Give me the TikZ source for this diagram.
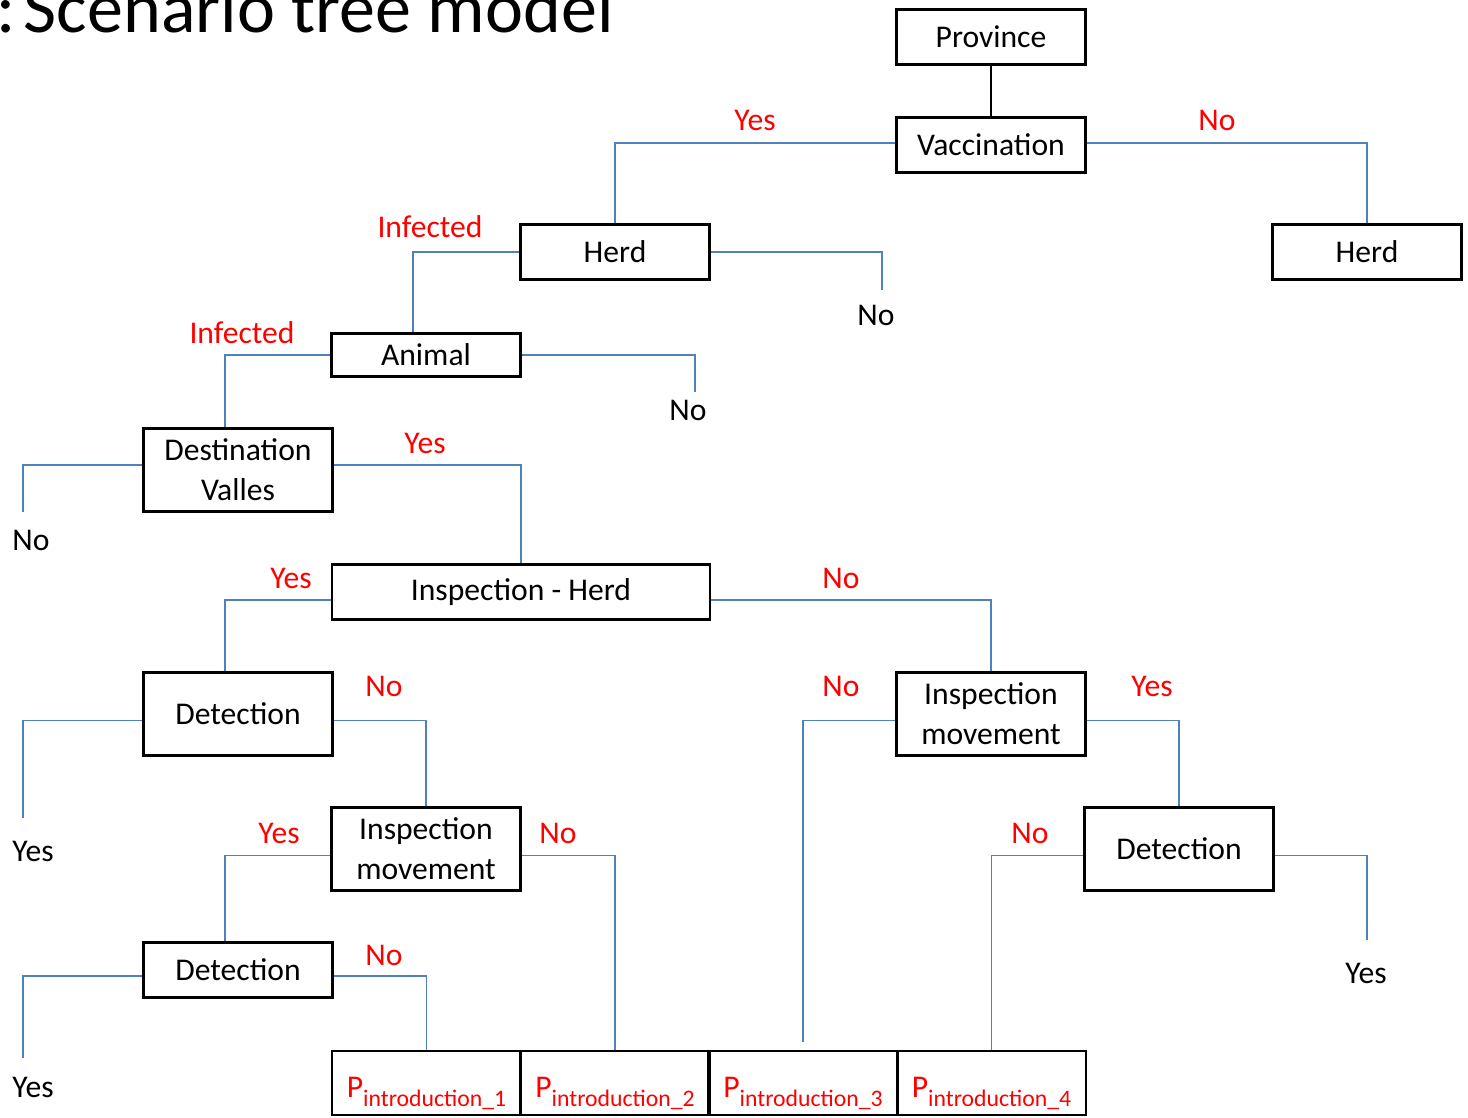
\documentclass[tikz,border=0pt]{standalone}
\usepackage{fontspec}
\setmainfont{Carlito}
\usetikzlibrary{positioning}
\definecolor{linkblue}{RGB}{79,129,189}
\definecolor{labelred}{RGB}{255,0,0}

\begin{document}
\begin{tikzpicture}[
  x=0.02cm,
  y=-0.02cm,
  state/.style={
    rectangle,
    draw,
    line width=1.6pt,
    align=center,
    inner sep=1pt,
    minimum width=3.78cm,
    minimum height=1.1cm,
    font=\fontsize{18}{22.7}\selectfont,
  },
  tall/.style={state, minimum height=1.66cm},
  prob/.style={state, minimum height=1.28cm, text height=17pt, text depth=1pt, text=labelred},
  branch/.style={draw=linkblue, line width=1.1pt},
  answer/.style={inner sep=0pt, text=labelred, font=\fontsize{18}{22}\selectfont},
  outcome/.style={inner sep=0pt, font=\fontsize{18}{22}\selectfont},
]
\useasboundingbox (0,0) rectangle (1468,1117);
\node[anchor=base east, inner sep=0pt, font=\fontsize{41}{48}\selectfont] (title) at (614,32) {:\hspace{0.12em}Scenario tree model};

% decision boxes
\node[state] (province) at (991,37) {Province};
\node[state] (vacc) at (991,145) {Vaccination};
\node[state] (herdL) at (615,252) {Herd};
\node[state] (herdR) at (1367,252) {Herd};
\node[state, minimum height=0.86cm] (animal) at (426,355) {Animal};
\node[tall] (dest) at (238,470) {Destination\\Valles};
\node[state, minimum width=7.56cm] (insHerd) at (521,592) {Inspection - Herd};
\node[tall] (detA) at (238,714) {Detection};
\node[tall] (insMovL) at (426,849) {Inspection\\movement};
\node[state] (detB) at (238,970) {Detection};
\node[tall] (insMovR) at (991,714) {Inspection\\movement};
\node[tall] (detC) at (1179,849) {Detection};

% probability boxes
\node[prob] (p1) at (426.5,1083) {P\raisebox{-0.6ex}{\fontsize{13.5}{15}\selectfont introduction\_1}};
\node[prob] (p2) at (615,1083) {P\raisebox{-0.6ex}{\fontsize{13.5}{15}\selectfont introduction\_2}};
\node[prob] (p3) at (803,1083) {P\raisebox{-0.6ex}{\fontsize{13.5}{15}\selectfont introduction\_3}};
\node[prob] (p4) at (991.5,1083) {P\raisebox{-0.6ex}{\fontsize{13.5}{15}\selectfont introduction\_4}};

% free ends
\coordinate (endA) at (882,290);
\coordinate (endB) at (695,392);
\coordinate (endC) at (23,512);
\coordinate (endD) at (23,818);
\coordinate (endE) at (23,1058);
\coordinate (endG) at (1367,940);

% connectors
\draw[line width=1.1pt] (province) -- (vacc);
\draw[branch] ([yshift=0.04cm]vacc.west) -| (herdL.north);
\draw[branch] ([yshift=0.04cm]vacc.east) -| (herdR.north);
\draw[branch] (herdL.west) -| ([xshift=-0.26cm]animal.north);
\draw[branch] (herdL.east) -| (endA);
\draw[branch] (animal.west) -| ([xshift=-0.26cm]dest.north);
\draw[branch] (animal.east) -| (endB);
\draw[branch] ([yshift=0.1cm]dest.west) -| (endC);
\draw[branch] ([yshift=0.1cm]dest.east) -| (insHerd.north);
\draw[branch] ([yshift=-0.16cm]insHerd.west) -| ([xshift=-0.26cm]detA.north);
\draw[branch] ([yshift=-0.16cm]insHerd.east) -| (insMovR.north);
\draw[branch] ([yshift=-0.13cm]detA.west) -| (endD);
\draw[branch] ([yshift=-0.13cm]detA.east) -| (insMovL.north);
\draw[branch] ([yshift=-0.13cm]insMovL.west) -| ([xshift=-0.26cm]detB.north);
\draw[branch] ([yshift=-0.13cm]insMovL.east) -| (p2.north);
\draw[branch] ([yshift=-0.12cm]detB.west) -| (endE);
\draw[branch] ([yshift=-0.12cm]detB.east) -| (p1.north);
\draw[branch, shorten >=0.16cm] ([yshift=-0.13cm]insMovR.west) -| (p3.north);
\draw[branch] ([yshift=-0.13cm]insMovR.east) -| (detC.north);
\draw[branch] ([yshift=-0.13cm]detC.west) -| (p4.north);
\draw[branch] ([yshift=-0.13cm]detC.east) -| (endG);

% branch labels
\node[answer] (yesVacc) at (755,120) {Yes};
\node[answer] (noVacc) at (1217,120) {No};
\node[answer] (infHerd) at (430,227) {Infected};
\node[answer] (infAnimal) at (242,333) {Infected};
\node[answer] (yesDest) at (425,443) {Yes};
\node[answer] (yesInsHerd) at (291,578) {Yes};
\node[answer] (noInsHerd) at (841,578) {No};
\node[answer] (noDetA) at (384,686) {No};
\node[answer] (yesInsMovL) at (279,833) {Yes};
\node[answer] (noInsMovL) at (558,833) {No};
\node[answer] (noDetB) at (384,955) {No};
\node[answer] (noInsMovR) at (841,686) {No};
\node[answer] (yesInsMovR) at (1152,686) {Yes};
\node[answer] (noDetC) at (1030,833) {No};

% outcomes
\node[outcome] (outHerd) at (876,315) {No};
\node[outcome] (outAnimal) at (688,410) {No};
\node[outcome] (outDest) at (31,540) {No};
\node[outcome] (outDetA) at (33,851) {Yes};
\node[outcome] (outDetB) at (33,1087) {Yes};
\node[outcome] (outDetC) at (1366,973) {Yes};
\end{tikzpicture}
\end{document}
